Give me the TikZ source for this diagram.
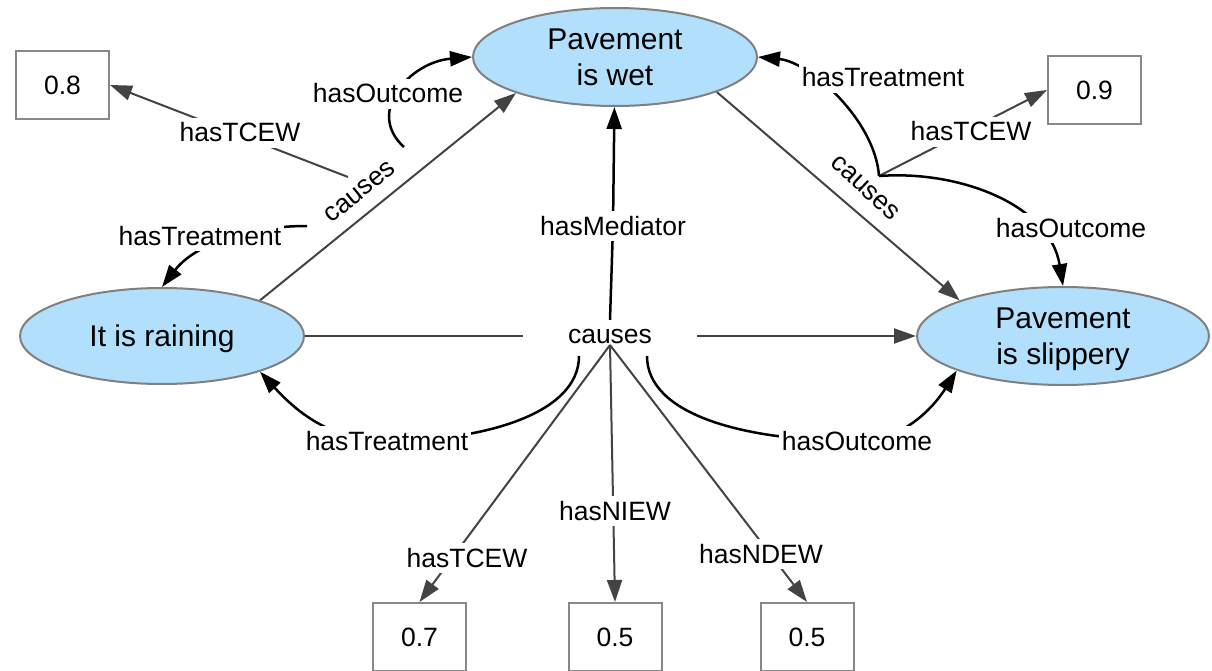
\documentclass[tikz,border=0pt]{standalone}
\usepackage{fontspec}
\setmainfont{Liberation Sans}
\usetikzlibrary{arrows.meta,shapes.geometric}
\pgfdeclarelayer{edges}
\pgfsetlayers{edges,main}
\definecolor{nodefill}{RGB}{178,223,252}
\definecolor{nodeline}{RGB}{128,128,128}
\definecolor{linkgray}{RGB}{67,67,67}
\definecolor{boxline}{RGB}{136,136,136}

\tikzset{
  concept/.style={ellipse, draw=nodeline, line width=2pt, fill=nodefill,
    inner sep=0pt, align=center, text depth=0pt, font=\fontsize{30}{36}\selectfont},
  valuebox/.style={rectangle, draw=boxline, line width=2pt, fill=white,
    minimum width=93pt, minimum height=68pt, inner sep=0pt,
    font=\fontsize{26.5}{30}\selectfont},
  rel/.style={font=\fontsize{26.5}{30}\selectfont, fill=white,
    inner xsep=3pt, inner ysep=5pt, text height=19pt, text depth=1pt},
  verb/.style={font=\fontsize{26.5}{30}\selectfont, inner sep=0pt,
    text height=14pt, text depth=0pt},
  graylink/.style={draw=linkgray, line width=2pt},
  blacklink/.style={draw=black, line width=2.5pt},
  arrowed/.style={-{Triangle[length=22pt,width=15pt]}},
}

\begin{document}
\begin{tikzpicture}[x=1pt,y=-1pt]
\useasboundingbox (0,0) rectangle (1212,671);

% concepts
\node[concept, minimum width=284pt, minimum height=98pt] (wet) at (615,57) {Pavement\\is wet};
\node[concept, minimum width=284pt, minimum height=96pt] (rain) at (162,336) {It is raining};
\node[concept, minimum width=292pt, minimum height=98pt] (slip) at (1063,336) {Pavement\\is slippery};

% effect weights
\node[valuebox] (b08) at (62.5,85) {0.8};
\node[valuebox] (b09) at (1094.5,90) {0.9};
\node[valuebox] (b07) at (419.5,637) {0.7};
\node[valuebox] (b05n) at (615,637) {0.5};
\node[valuebox] (b05d) at (807,637) {0.5};

% causal links
\node[verb, inner xsep=45pt, inner ysep=9pt] (c0) at (610,336) {causes};
\node[verb, rotate=39] (c1) at (360,192) {causes};
\node[verb, rotate=-43] (c2) at (865,188) {causes};

% attachment points of the link properties
\coordinate (j0) at (610,345);
\coordinate (j0r) at (579,356);
\coordinate (j0o) at (647,356);
\coordinate (j1t) at (348,177);
\coordinate (j1o) at (404,147);
\coordinate (j1r) at (307,226);
\coordinate (j2) at (879,176);

% property labels
\node[rel] (med) at (613,226) {hasMediator};
\node[rel] (tcew0) at (467,558) {hasTCEW};
\node[rel] (niew) at (615,511) {hasNIEW};
\node[rel] (ndew) at (761,554) {hasNDEW};
\node[rel] (treat0) at (387,441) {hasTreatment};
\node[rel] (out0) at (857,441) {hasOutcome};
\node[rel] (tcew1) at (240,133) {hasTCEW};
\node[rel] (out1) at (388,94) {hasOutcome};
\node[rel] (treat1) at (200,236) {hasTreatment};
\node[rel] (treat2) at (883,78) {hasTreatment};
\node[rel] (tcew2) at (971,132) {hasTCEW};
\node[rel] (out2) at (1071,228) {hasOutcome};

\begin{pgfonlayer}{edges}
  % raining causes slippery
  \draw[graylink] (rain) -- (c0);
  \draw[graylink, arrowed] (c0) -- (slip);
  \draw[blacklink] (c0.north) -- (med);
  \draw[blacklink, arrowed] (med) -- (wet);
  \draw[graylink, arrowed] (j0) -- (b07.north);
  \draw[graylink, arrowed] (j0) -- (b05n.north);
  \draw[graylink, arrowed] (j0) -- (b05d.north);
  \draw[blacklink, arrowed] (j0r) .. controls (579,415) and (480,441) .. (treat0.center)
        .. controls (330,441) and (295,410) .. (rain.340);
  \draw[blacklink, arrowed] (j0o) .. controls (647,415) and (745,441) .. (out0.center)
        .. controls (905,441) and (935,405) .. (slip.198);

  % raining causes wet
  \draw[graylink, arrowed] (rain.20) -- (wet.200);
  \draw[graylink, arrowed] (j1t) -- (b08.east);
  \draw[blacklink, arrowed] (j1o) .. controls (365,112) and (410,62) .. (wet.west);
  \draw[blacklink, arrowed] (j1r) .. controls (240,226) and (192,248) .. (rain.north);

  % wet causes slippery
  \draw[graylink, arrowed] (wet.341) -- (slip.161);
  \draw[graylink, arrowed] (j2) -- (b09.west);
  \draw[blacklink, arrowed] (j2) .. controls (875,120) and (810,62) .. (wet.east);
  \draw[blacklink, arrowed] (j2) .. controls (960,170) and (1050,205) .. (slip.north);
\end{pgfonlayer}
\end{tikzpicture}
\end{document}
